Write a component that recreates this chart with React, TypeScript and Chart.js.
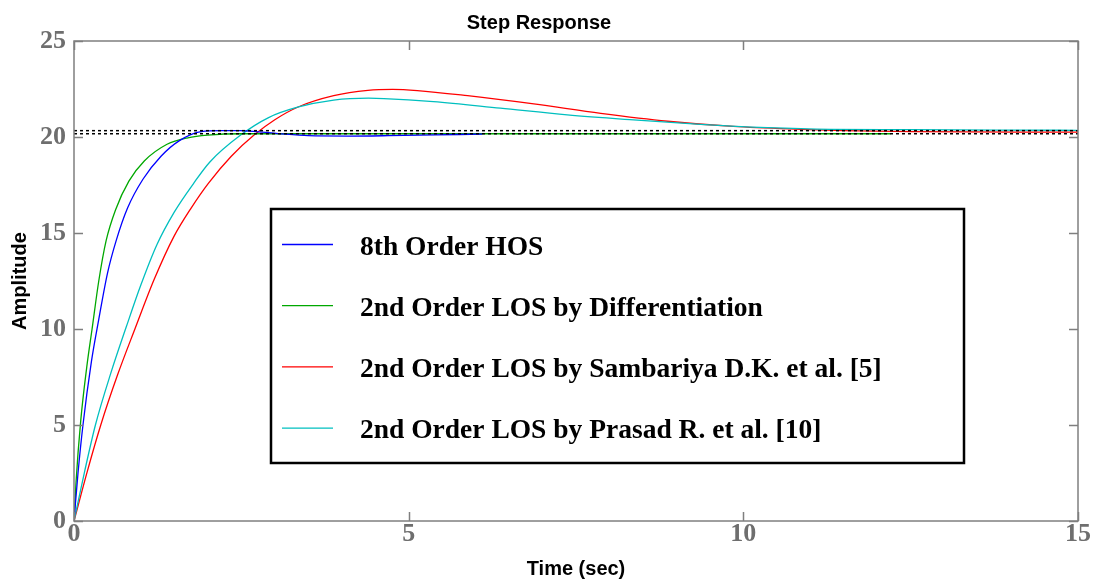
import { useEffect, useRef } from "react";
import { Chart, registerables } from "chart.js";

Chart.register(...registerables);

// ---- data ----
const hosTime = [0, 0.06, 0.134, 0.26, 0.37, 0.5, 0.63, 0.8, 1.03, 1.3, 1.57, 1.9, 2.2, 2.49, 2.75, 3.05, 3.5, 4.1, 4.7, 5.4, 6.1];
const hosAmp = [0, 2.5, 5, 8.3, 10.5, 12.9, 14.6, 16.3, 17.8, 19.0, 19.8, 20.28, 20.33, 20.33, 20.27, 20.18, 20.07, 20.05, 20.07, 20.11, 20.15];

const diffTime = [0, 0.03, 0.1, 0.19, 0.27, 0.37, 0.48, 0.62, 0.82, 1.05, 1.39, 1.7, 2.0, 2.5, 3.5, 6, 9, 12.2];
const diffAmp = [0, 2.0, 5.2, 8.0, 10.0, 12.5, 14.6, 16.2, 17.7, 18.75, 19.62, 19.96, 20.1, 20.17, 20.17, 20.17, 20.17, 20.17];

const sambTime = [0, 0.2, 0.4, 0.65, 0.91, 1.2, 1.49, 1.75, 2.01, 2.35, 2.69, 3.0, 3.34, 3.88, 4.39, 4.76, 5.13, 5.88, 6.87, 7.87, 8.87, 9.85, 10.85, 11.5, 12.5, 15];
const sambAmp = [0, 2.6, 5.0, 7.6, 10.0, 12.6, 14.8, 16.3, 17.6, 19.0, 20.1, 20.9, 21.55, 22.15, 22.43, 22.48, 22.42, 22.15, 21.72, 21.23, 20.82, 20.55, 20.4, 20.33, 20.28, 20.25];

const prasTime = [0, 0.16, 0.32, 0.55, 0.78, 1.0, 1.24, 1.5, 1.79, 2.03, 2.49, 2.9, 3.34, 3.88, 4.4, 4.63, 5.37, 6.37, 7.37, 8.36, 9.36, 10.36, 11.3, 12.5, 13.8, 15];
const prasAmp = [0, 2.6, 5.0, 7.7, 10.1, 12.3, 14.4, 16.1, 17.6, 18.7, 20.1, 21.0, 21.55, 21.92, 22.02, 22.0, 21.84, 21.5, 21.15, 20.89, 20.66, 20.49, 20.4, 20.38, 20.36, 20.35];

const steadyTime = [0, 15];
const steadyHigh = [20.33, 20.33];
const steadyLow = [20.17, 20.17];

const seriesLabels = [
  "8th Order HOS",
  "2nd Order LOS by Differentiation",
  "2nd Order LOS by Sambariya D.K. et al. [5]",
  "2nd Order LOS by Prasad R. et al. [10]",
];
const seriesColors = ["#0000ff", "#00a800", "#ff0000", "#00bfbf"];

const xTicks = [0, 5, 10, 15];
const yTicks = [0, 5, 10, 15, 20, 25];

const titleText = "Step Response";
const xTitle = "Time (sec)";
const yTitle = "Amplitude";

const zip = (xs: number[], ys: number[]) => xs.map((x, i) => ({ x, y: ys[i] }));

const frameAndLegend = {
  id: "frameAndLegend",
  afterDatasetsDraw(chart: any) {
    const { ctx, chartArea: a, scales } = chart;
    ctx.save();
    ctx.strokeStyle = "#7f7f7f";
    ctx.lineWidth = 1.5;
    ctx.strokeRect(a.left, a.top, a.right - a.left, a.bottom - a.top);
    const tl = 9;
    ctx.beginPath();
    for (const v of yTicks) {
      const y = Math.round(scales.y.getPixelForValue(v)) + 0.5;
      ctx.moveTo(a.left, y);
      ctx.lineTo(a.left + tl, y);
      ctx.moveTo(a.right, y);
      ctx.lineTo(a.right - tl, y);
    }
    for (const v of xTicks) {
      const x = Math.round(scales.x.getPixelForValue(v)) + 0.5;
      ctx.moveTo(x, a.bottom);
      ctx.lineTo(x, a.bottom - tl);
      ctx.moveTo(x, a.top);
      ctx.lineTo(x, a.top + tl);
    }
    ctx.stroke();
    ctx.restore();
  },
  afterDraw(chart: any) {
    const { ctx } = chart;
    ctx.save();
    const bx = 271, by = 209, bw = 693, bh = 254;
    ctx.fillStyle = "#ffffff";
    ctx.fillRect(bx, by, bw, bh);
    ctx.strokeStyle = "#000000";
    ctx.lineWidth = 2.5;
    ctx.strokeRect(bx, by, bw, bh);
    ctx.font = "bold 27.5px 'Liberation Serif', 'Times New Roman', serif";
    ctx.textAlign = "left";
    ctx.textBaseline = "alphabetic";
    seriesLabels.forEach((lab, i) => {
      const y = 244.5 + i * 61.2;
      ctx.strokeStyle = seriesColors[i];
      ctx.lineWidth = 1.3;
      ctx.beginPath();
      ctx.moveTo(282, y);
      ctx.lineTo(333, y);
      ctx.stroke();
      ctx.fillStyle = "#000000";
      ctx.fillText(lab, 360, y + 10);
    });
    ctx.restore();
  },
};

export default function App() {
  const ref = useRef<HTMLCanvasElement | null>(null);
  useEffect(() => {
    document.body.style.margin = "0";
    const canvas = ref.current!;
    const curve = (label: string, data: any[], color: string) => ({
      label,
      data,
      borderColor: color,
      backgroundColor: color,
      borderWidth: 1.3,
      pointRadius: 0,
      fill: false,
      cubicInterpolationMode: "monotone" as const,
    });
    const dashed = (data: any[]) => ({
      label: "steady",
      data,
      borderColor: "#000000",
      borderWidth: 1.5,
      borderDash: [3, 3],
      pointRadius: 0,
      fill: false,
    });
    const chart = new Chart(canvas, {
      type: "line",
      data: {
        datasets: [
          dashed(zip(steadyTime, steadyHigh)),
          dashed(zip(steadyTime, steadyLow)),
          curve(seriesLabels[0], zip(hosTime, hosAmp), seriesColors[0]),
          curve(seriesLabels[1], zip(diffTime, diffAmp), seriesColors[1]),
          curve(seriesLabels[3], zip(prasTime, prasAmp), seriesColors[3]),
          curve(seriesLabels[2], zip(sambTime, sambAmp), seriesColors[2]),
        ],
      },
      options: {
        animation: false,
        responsive: false,
        layout: { padding: { left: 0, right: 19, top: 0, bottom: 0 } },
        plugins: {
          legend: { display: false },
          tooltip: { enabled: false },
          title: {
            display: true,
            text: titleText,
            color: "#000000",
            font: { family: "'Liberation Sans', Arial, sans-serif", size: 20, weight: "bold", lineHeight: 1.2 },
            padding: { top: 11, bottom: 6 },
          },
        },
        scales: {
          x: {
            type: "linear",
            min: 0,
            max: 15,
            afterBuildTicks: (s: any) => {
              s.ticks = xTicks.map((v) => ({ value: v }));
            },
            afterFit: (s: any) => {
              s.height = 62;
            },
            grid: { display: false, drawTicks: false },
            border: { display: false },
            ticks: {
              color: "#6e6e6e",
              padding: 0,
              maxRotation: 0,
              font: { family: "'Liberation Serif', 'Times New Roman', serif", size: 26, weight: "bold", lineHeight: 1 },
            },
            title: {
              display: true,
              text: xTitle,
              color: "#000000",
              font: { family: "'Liberation Sans', Arial, sans-serif", size: 20, weight: "bold", lineHeight: 1.2 },
              padding: { top: 0, bottom: 2 },
            },
          },
          y: {
            type: "linear",
            min: 0,
            max: 25,
            afterBuildTicks: (s: any) => {
              s.ticks = yTicks.map((v) => ({ value: v }));
            },
            afterFit: (s: any) => {
              s.width = 74;
            },
            grid: { display: false, drawTicks: false },
            border: { display: false },
            ticks: {
              color: "#6e6e6e",
              padding: 8,
              font: { family: "'Liberation Serif', 'Times New Roman', serif", size: 26, weight: "bold", lineHeight: 1 },
            },
            title: {
              display: true,
              text: yTitle,
              color: "#000000",
              font: { family: "'Liberation Sans', Arial, sans-serif", size: 20, weight: "bold", lineHeight: 1.2 },
              padding: { top: 8, bottom: 0 },
            },
          },
        },
      },
      plugins: [frameAndLegend],
    });
    return () => chart.destroy();
  }, []);
  return <canvas ref={ref} width={1097} height={583} style={{ display: "block" }} />;
}
